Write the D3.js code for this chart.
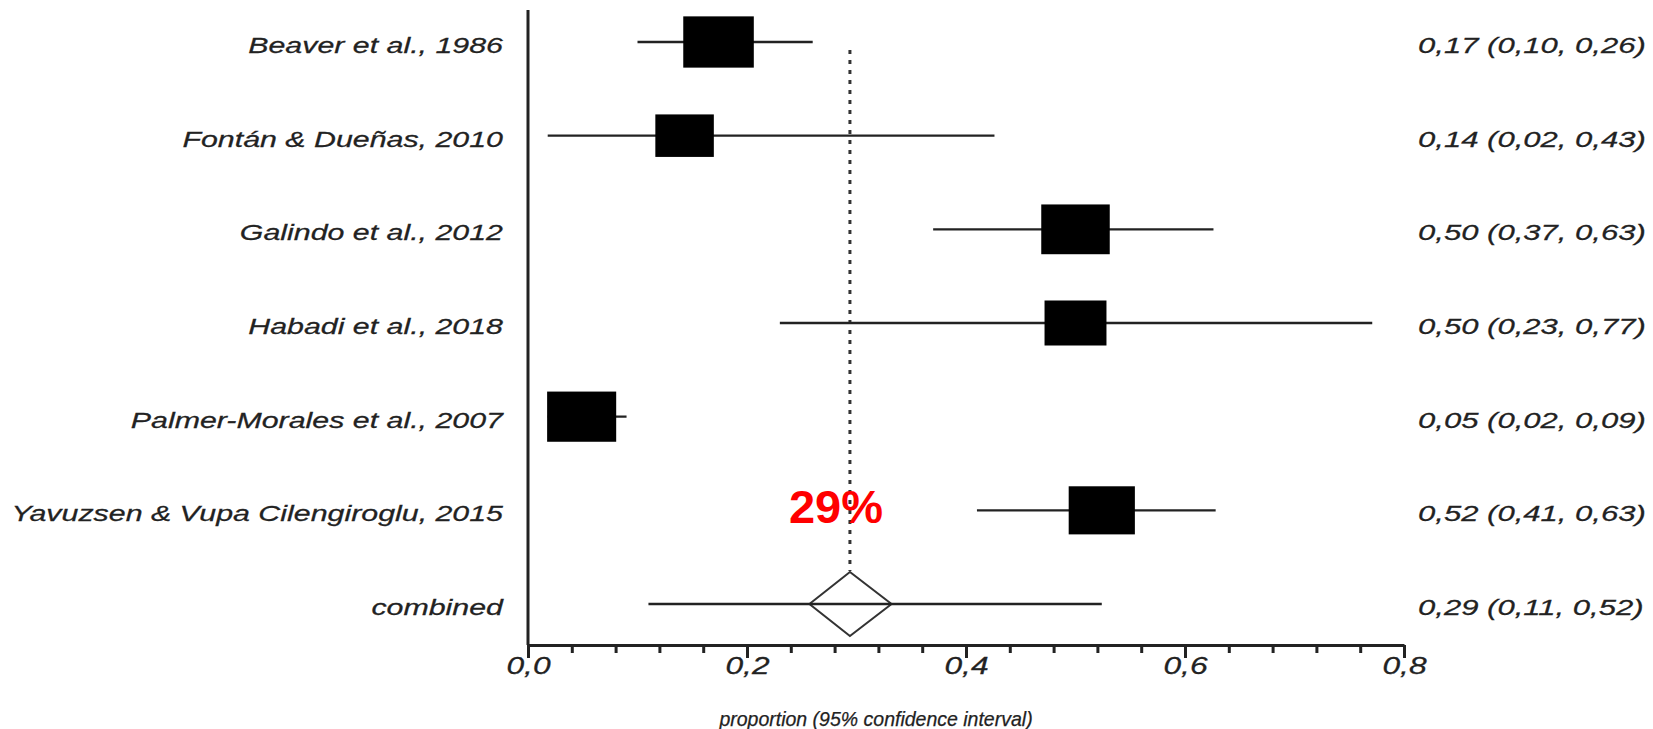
<!DOCTYPE html>
<html>
<head>
<meta charset="utf-8">
<script src="https://cdn.jsdelivr.net/npm/d3@7"></script>
<style>
  html, body { margin: 0; padding: 0; background: #fff; }
  svg { display: block; }
  text { font-family: "Liberation Sans", Arial, sans-serif; }
</style>
</head>
<body>
<svg id="chart" width="1653" height="729"></svg>
<script>
// ---- data ----
const studies = [
  "Beaver et al., 1986",
  "Fontán & Dueñas, 2010",
  "Galindo et al., 2012",
  "Habadi et al., 2018",
  "Palmer-Morales et al., 2007",
  "Yavuzsen & Vupa Cilengiroglu, 2015"
];
const estimates = [0.174, 0.143, 0.50, 0.50, 0.049, 0.524];
const lowerCI   = [0.10, 0.018, 0.37, 0.23, 0.018, 0.41];
const upperCI   = [0.26, 0.426, 0.626, 0.771, 0.09, 0.628];
const weights   = [19.2, 13.2, 18.1, 14.8, 18.4, 16.9];
const rightLabels = [
  "0,17 (0,10, 0,26)",
  "0,14 (0,02, 0,43)",
  "0,50 (0,37, 0,63)",
  "0,50 (0,23, 0,77)",
  "0,05 (0,02, 0,09)",
  "0,52 (0,41, 0,63)"
];
const combinedLabel = "combined";
const combinedEstimate = 0.294;
const combinedCI = [0.11, 0.524];
const combinedDiamond = [0.257, 0.332];
const combinedRightLabel = "0,29 (0,11, 0,52)";
const majorTicks = [0, 0.2, 0.4, 0.6, 0.8];
const minorTicks = [0.04, 0.08, 0.12, 0.16, 0.24, 0.28, 0.32, 0.36, 0.44, 0.48, 0.52, 0.56, 0.64, 0.68, 0.72, 0.76];
const axisTitle = "proportion (95% confidence interval)";
const annotation = "29%";

// ---- layout ----
const SX = 1.38;            // horizontal stretch of the original picture
const ink = "#222";
const svg = d3.select("#chart");

const x = d3.scaleLinear().domain([0, 0.8]).range([528, 1404]);
const rows = studies.concat([combinedLabel]);
const y = d3.scalePoint().domain(d3.range(rows.length)).range([42, 604]);
const axisY = 645;

const sizeH = d3.scaleSqrt().domain([0, 100]).range([0, 117]);
const sizeW = d3.scaleSqrt().domain([0, 100]).range([0, 161]);

function stretchedText(g, tx, ty, str, anchor, size, sx) {
  return g.append("g").attr("transform", `translate(${tx},${ty})`)
    .append("text")
    .attr("transform", `scale(${sx},1)`)
    .attr("text-anchor", anchor)
    .attr("font-style", "italic")
    .attr("font-size", size)
    .attr("fill", ink)
    .attr("stroke", ink).attr("stroke-width", 0.25)
    .text(str);
}

// left labels
rows.forEach((s, i) => stretchedText(svg, 503, y(i) + 11, s, "end", 22, SX));

// right labels
rightLabels.concat([combinedRightLabel]).forEach((s, i) =>
  stretchedText(svg, 1418, y(i) + 11, s, "start", 22.5, SX));

// dotted reference line
svg.append("line")
  .attr("x1", x(combinedEstimate)).attr("x2", x(combinedEstimate))
  .attr("y1", 50).attr("y2", y(6) - 33)
  .attr("stroke", "#333").attr("stroke-width", 3)
  .attr("stroke-dasharray", "4,6");

// whiskers
const data = studies.map((s, i) => ({i, est: estimates[i], lo: lowerCI[i], hi: upperCI[i], w: weights[i]}));
svg.selectAll("line.ci").data(data).join("line")
  .attr("class", "ci")
  .attr("x1", d => x(d.lo)).attr("x2", d => x(d.hi))
  .attr("y1", d => y(d.i)).attr("y2", d => y(d.i))
  .attr("stroke", ink).attr("stroke-width", 2.3);

// boxes
svg.selectAll("rect.box").data(data).join("rect")
  .attr("class", "box")
  .attr("x", d => x(d.est) - sizeW(d.w) / 2)
  .attr("y", d => y(d.i) - sizeH(d.w) / 2)
  .attr("width", d => sizeW(d.w))
  .attr("height", d => sizeH(d.w))
  .attr("fill", "#000");

// combined diamond + line
const cy = y(6);
svg.append("path")
  .attr("d", `M${x(combinedDiamond[0])},${cy} L${x(combinedEstimate)},${cy - 32} L${x(combinedDiamond[1])},${cy} L${x(combinedEstimate)},${cy + 32} Z`)
  .attr("fill", "#fff").attr("stroke", "#333").attr("stroke-width", 2);
svg.append("line")
  .attr("x1", x(combinedCI[0])).attr("x2", x(combinedCI[1]))
  .attr("y1", cy).attr("y2", cy)
  .attr("stroke", ink).attr("stroke-width", 2.3);

// y axis line
svg.append("line")
  .attr("x1", x(0)).attr("x2", x(0)).attr("y1", 10).attr("y2", axisY)
  .attr("stroke", ink).attr("stroke-width", 3);

// x axis
const fmt = d => d3.format(".1f")(d).replace(".", ",");
const gx = svg.append("g").attr("transform", `translate(0,${axisY})`)
  .call(d3.axisBottom(x).tickValues(majorTicks).tickSize(13).tickSizeOuter(0).tickFormat(fmt));
gx.select(".domain").attr("stroke", ink).attr("stroke-width", 3);
gx.selectAll(".tick line").attr("stroke", ink).attr("stroke-width", 3);
gx.selectAll(".tick text")
  .attr("y", 29).attr("dy", 0)
  .attr("transform", `scale(${SX},1)`)
  .attr("font-family", "Liberation Sans, Arial, sans-serif")
  .attr("font-style", "italic").attr("font-size", 23).attr("fill", ink)
  .attr("stroke", ink).attr("stroke-width", 0.25);

const gm = svg.append("g").attr("transform", `translate(0,${axisY})`)
  .call(d3.axisBottom(x).tickValues(minorTicks).tickSize(8).tickSizeOuter(0).tickFormat(""));
gm.select(".domain").remove();
gm.selectAll(".tick line").attr("stroke", ink).attr("stroke-width", 3);

// axis title
stretchedText(svg, 876, 726, axisTitle, "middle", 19.5, 1);

// red annotation
svg.append("text")
  .attr("x", x(combinedEstimate) - 14).attr("y", 523)
  .attr("text-anchor", "middle")
  .attr("font-weight", "bold").attr("font-size", 47)
  .attr("fill", "#ff0000")
  .text(annotation);
</script>
</body>
</html>
